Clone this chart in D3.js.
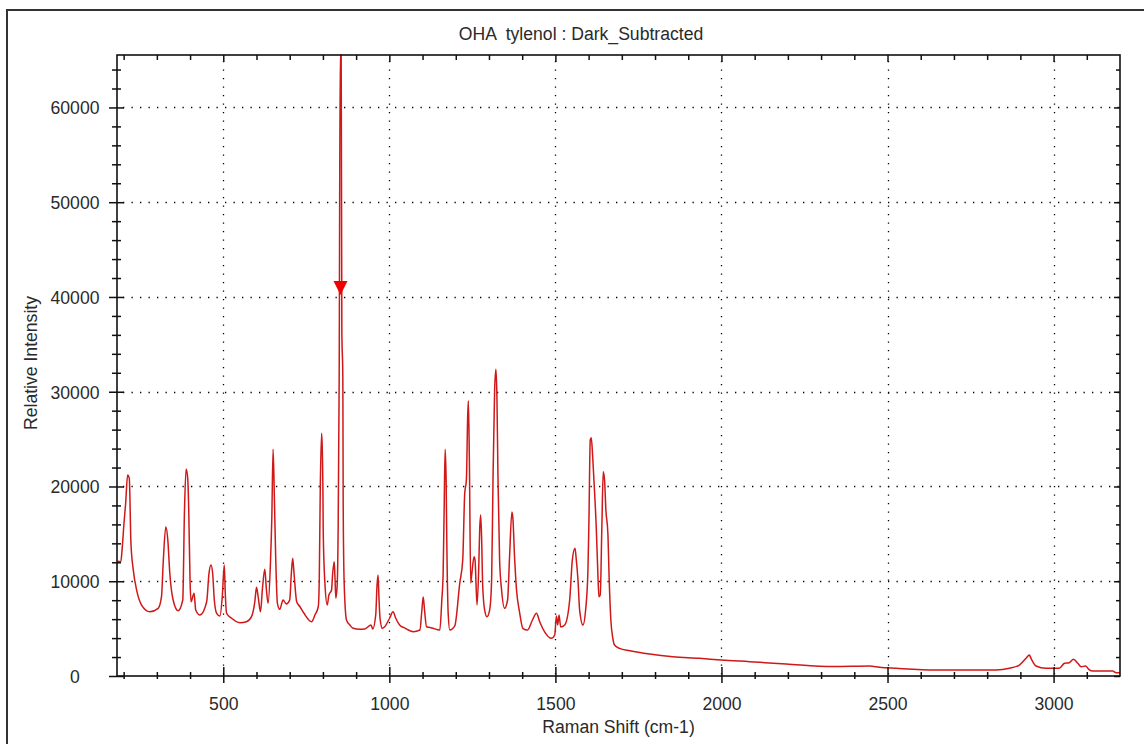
<!DOCTYPE html>
<html>
<head>
<meta charset="utf-8">
<script src="https://cdn.jsdelivr.net/npm/d3@7"></script>
<style>
  html, body { margin: 0; padding: 0; background: #fff; }
  svg { display: block; }
  text { font-family: "Liberation Sans", Arial, sans-serif; fill: #2a2a2a; white-space: pre; }
</style>
</head>
<body>
<svg id="chart" width="1144" height="744"></svg>
<script>
// ---- data ----
const chartTitle = "OHA  tylenol : Dark_Subtracted";
const xAxisTitle = "Raman Shift (cm-1)";
const yAxisTitle = "Relative Intensity";

const ramanShift = [
  180,186,191,196,201,206,212,217,222,229,239,254,279,304,314,319,327,333,339,349,
  364,378,383,388,393,396,400,403,412,417,430,450,457,463,468,473,480,490,497,503,
  506,510,525,550,570,585,595,600,605,612,618,625,630,635,642,646,650,654,658,663,
  670,680,690,700,705,709,713,721,731,743,766,776,786,789,792,796,798,800,801,806,
  813,818,826,829,834,836,839,843,846,849,852,855,857,860,861,864,871,881,891,911,
  926,945,950,959,963,966,969,972,979,986,1001,1011,1019,1031,1046,1072,1092,1098,1102,1106,
  1112,1128,1152,1158,1162,1165,1168,1171,1173,1177,1182,1197,1212,1221,1227,1232,1236,1238,1241,1245,
  1248,1255,1258,1264,1269,1272,1275,1278,1281,1287,1294,1302,1308,1312,1317,1321,1324,1327,1332,1338,
  1347,1356,1362,1369,1372,1377,1383,1392,1402,1416,1431,1443,1453,1468,1488,1498,1503,1507,1511,1516,
  1528,1543,1551,1559,1563,1568,1573,1583,1591,1598,1601,1605,1608,1612,1616,1623,1628,1631,1635,1640,
  1644,1648,1652,1658,1662,1667,1673,1678,1693,1724,1784,1854,1934,1999,2085,2195,2336,2446,2476,2526,
  2646,2827,2867,2897,2917,2927,2932,2947,2977,3017,3033,3047,3060,3073,3083,3096,3106,3118,3178,3188,
  3200
];
const relIntensity = [
  12000,12100,12000,13650,16100,18200,21200,20860,14000,11200,9080,7490,6790,7140,8370,11900,15760,14350,10840,8020,
  6890,8020,17170,21850,20860,17520,9950,7840,8730,6970,6440,7840,10840,11710,10840,8020,6620,6330,8370,11710,
  8730,6620,6090,5630,5730,6260,7840,9360,8370,6790,9250,11260,9075,7670,11890,16460,23920,18570,12240,7670,
  7040,8020,7600,8020,10840,12420,10840,7840,7310,6620,5730,6440,7310,10130,19630,25610,24060,19630,15060,9810,
  7490,8550,9075,10660,12060,10660,8200,9600,15930,31590,65535,65535,36330,31590,18260,9810,5910,5380,5030,4930,
  4960,5380,4960,6440,9600,10660,8020,6090,5030,5200,6120,6790,6120,5380,5070,4670,4850,6960,8340,6960,
  5200,5070,4850,8020,10840,17520,23920,20680,14350,6750,4850,5280,9780,12240,19280,20680,27540,29050,22790,9810,
  10660,12590,12240,7490,11190,15410,16990,14350,9600,6960,6260,6960,10130,20340,30180,32370,29340,21210,12240,9075,
  7140,8020,12590,17310,16670,12590,9075,6750,5030,4850,5910,6620,5700,4640,3980,4330,6330,5380,6440,5170,
  5380,8020,12240,13480,12240,10130,6960,5380,6960,11190,16460,24910,25150,23320,20680,15720,10660,8370,8550,15930,
  21560,20680,17520,15060,10130,5910,3980,3270,2920,2670,2320,2040,1870,1690,1510,1270,1000,1055,920,810,
  630,630,810,1160,1870,2220,1870,1055,810,810,1340,1400,1760,1340,980,1055,710,530,530,350,
  350
];
// cursor marker (arrow) on the strongest band
const markerShift = [853];
const markerIntensity = [40200];

const xDomain = [180, 3200];
const yDomain = [0, 65535];
const xMajorTicks = [500, 1000, 1500, 2000, 2500, 3000];
const yMajorTicks = [0, 10000, 20000, 30000, 40000, 50000, 60000];
const xMinorTicks = d3.range(200, 3200, 100).filter(v => v % 500 !== 0);
const yMinorTicks = d3.range(2000, 65535, 2000).filter(v => v % 10000 !== 0);

// ---- layout ----
const L = 117, R = 1120, T = 55, B = 676;
const FS = "17.6px";
const svg = d3.select("#chart");
const x = d3.scaleLinear().domain(xDomain).range([L, R]);
const y = d3.scaleLinear().domain(yDomain).range([B, T]);

// outer frame
svg.append("path")
  .attr("d", `M7,760 L7,10 L1160,10`)
  .attr("fill", "none").attr("stroke", "#333").attr("stroke-width", 2);

// title
svg.append("text").attr("x", 581).attr("y", 40).attr("xml:space", "preserve")
  .attr("text-anchor", "middle").style("font-size", FS).text(chartTitle);

// grid (dotted)
const grid = svg.append("g").attr("stroke", "#000").attr("stroke-width", 1.3)
  .attr("stroke-dasharray", "1.3,7.2");
grid.selectAll("line.gx").data(xMajorTicks).join("line").attr("class", "gx")
  .attr("x1", d => Math.round(x(d)) + 0.5).attr("x2", d => Math.round(x(d)) + 0.5)
  .attr("y1", T + 6).attr("y2", B);
grid.selectAll("line.gy").data(yMajorTicks.filter(d => d > 0)).join("line").attr("class", "gy")
  .attr("y1", d => Math.round(y(d)) + 0.5).attr("y2", d => Math.round(y(d)) + 0.5)
  .attr("x1", L + 6).attr("x2", R);

// spectrum
svg.append("clipPath").attr("id", "plotclip")
  .append("rect").attr("x", L).attr("y", T - 1).attr("width", R - L).attr("height", B - T + 1);
const line = d3.line().curve(d3.curveMonotoneX)
  .x((d, i) => x(ramanShift[i])).y((d, i) => y(relIntensity[i]));
svg.append("path")
  .attr("clip-path", "url(#plotclip)")
  .attr("d", line(ramanShift))
  .attr("fill", "none").attr("stroke", "#d01818").attr("stroke-width", 1.5)
  .attr("stroke-linejoin", "round");

// marker arrow
svg.selectAll("path.marker").data(markerShift).join("path").attr("class", "marker")
  .attr("d", (d, i) => {
    const cx = x(d), ty = y(markerIntensity[i]);
    return `M${cx - 7},${ty - 14} L${cx + 7},${ty - 14} L${cx},${ty} Z`;
  })
  .attr("fill", "#f00000");

// axes
function styleAxis(g) {
  g.select(".domain").remove();
  g.selectAll(".tick line").attr("stroke", "#111").attr("stroke-width", 1.5);
  g.selectAll("text").style("font-size", FS).attr("fill", "#2a2a2a")
    .style("font-family", '"Liberation Sans", Arial, sans-serif');
}
// bottom major
const gxb = svg.append("g").attr("transform", `translate(0,${B})`)
  .call(d3.axisBottom(x).tickValues(xMajorTicks).tickSize(7).tickPadding(15).tickFormat(d3.format("d")));
styleAxis(gxb);
gxb.selectAll(".tick line").attr("y1", -9);
// bottom minor
const gxbm = svg.append("g").attr("transform", `translate(0,${B})`)
  .call(d3.axisBottom(x).tickValues(xMinorTicks).tickSize(3).tickFormat(""));
styleAxis(gxbm);
gxbm.selectAll(".tick line").attr("y1", -4);
// top ticks
const gxt = svg.append("g").attr("transform", `translate(0,${T})`)
  .call(d3.axisBottom(x).tickValues(xMajorTicks).tickSize(7).tickFormat(""));
styleAxis(gxt);
const gxtm = svg.append("g").attr("transform", `translate(0,${T})`)
  .call(d3.axisBottom(x).tickValues(xMinorTicks).tickSize(5).tickFormat(""));
styleAxis(gxtm);

// left major
const gyl = svg.append("g").attr("transform", `translate(${L},0)`)
  .call(d3.axisLeft(y).tickValues(yMajorTicks).tickSize(8).tickFormat(d3.format("d")));
styleAxis(gyl);
gyl.selectAll(".tick line").attr("x1", 7);
gyl.selectAll(".tick text").attr("x", -42).attr("text-anchor", "middle").attr("dy", "0.36em");
// left minor
const gylm = svg.append("g").attr("transform", `translate(${L},0)`)
  .call(d3.axisLeft(y).tickValues(yMinorTicks).tickSize(5).tickFormat(""));
styleAxis(gylm);
gylm.selectAll(".tick line").attr("x1", 4);
// right ticks
const gyr = svg.append("g").attr("transform", `translate(${R},0)`)
  .call(d3.axisLeft(y).tickValues(yMajorTicks).tickSize(6).tickFormat(""));
styleAxis(gyr);
const gyrm = svg.append("g").attr("transform", `translate(${R},0)`)
  .call(d3.axisLeft(y).tickValues(yMinorTicks).tickSize(4).tickFormat(""));
styleAxis(gyrm);

// plot border
svg.append("rect").attr("x", L).attr("y", T).attr("width", R - L).attr("height", B - T)
  .attr("fill", "none").attr("stroke", "#111").attr("stroke-width", 1.6);

// axis titles
svg.append("text").attr("x", (L + R) / 2).attr("y", 733)
  .attr("text-anchor", "middle").style("font-size", FS).text(xAxisTitle);
svg.append("text").attr("transform", `translate(37,${363}) rotate(-90)`)
  .attr("text-anchor", "middle").style("font-size", FS).text(yAxisTitle);
</script>
</body>
</html>
